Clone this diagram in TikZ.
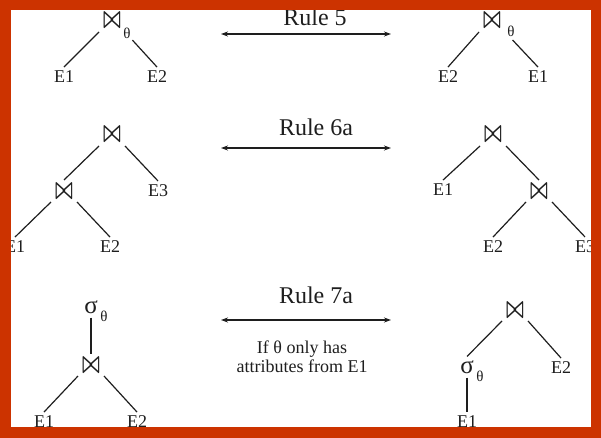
\documentclass[tikz,border=0pt]{standalone}
\usepackage{fontspec}
\setmainfont{Liberation Serif}
\usetikzlibrary{arrows.meta}
\definecolor{frame}{RGB}{204,51,0}
\definecolor{ink}{RGB}{30,30,30}
\newcommand{\joinsym}{\resizebox{18pt}{14pt}{\boldmath$\bowtie$}}
\tikzset{
  lab/.style={font=\fontsize{18}{18}\selectfont, text=ink, inner sep=0pt, outer sep=4pt},
  joinop/.style={text=ink, inner sep=0pt, outer sep=4pt},
  selop/.style={font=\fontsize{25}{25}\selectfont, text=ink, inner sep=0pt, outer sep=4pt},
  subtheta/.style={font=\fontsize{15}{15}\selectfont, text=ink, inner sep=0pt},
  rulename/.style={font=\fontsize{24}{24}\selectfont, text=ink, inner sep=1pt},
  note/.style={font=\fontsize{18}{19}\selectfont, text=ink, align=center, inner sep=0pt},
  branch/.style={line width=1.2pt, draw=ink},
  rulearrow/.style={line width=1.1pt, draw=ink, {Stealth[length=7pt,width=5pt]}-{Stealth[length=7pt,width=5pt]}},
}
\begin{document}
\begin{tikzpicture}[x=1pt,y=-1pt]
\useasboundingbox (0,0) rectangle (601,438);

% ---------- Rule 5: commutativity of theta-join ----------
\node[joinop] (a5) at (112,21) {\joinsym};
\node[subtheta] (a5t) at (127,33) {θ};
\node[lab] (a5l) at (64,77) {E1};
\node[lab] (a5r) at (157,77) {E2};
\draw[branch] (a5.south west) -- (a5l.north);
\draw[branch, shorten <=11pt] (a5.south east) -- (a5r.north);

\node[rulename] (r5) at (315,17) {Rule 5};
\coordinate (r5a) at (221,34);
\coordinate (r5b) at (391,34);
\draw[rulearrow] (r5a) -- (r5b);

\node[joinop] (b5) at (492,21) {\joinsym};
\node[subtheta] (b5t) at (511,31) {θ};
\node[lab] (b5l) at (448,77) {E2};
\node[lab] (b5r) at (538,77) {E1};
\draw[branch] (b5.south west) -- (b5l.north);
\draw[branch, shorten <=11pt] (b5.south east) -- (b5r.north);

% ---------- Rule 6a: associativity of natural join ----------
\node[joinop] (a6) at (112,135) {\joinsym};
\node[joinop] (a6j) at (64,191) {\joinsym};
\node[lab] (a6e3) at (158,191) {E3};
\node[lab] (a6e1) at (15,247) {E1};
\node[lab] (a6e2) at (110,247) {E2};
\draw[branch] (a6.south west) -- (a6j.north);
\draw[branch] (a6.south east) -- (a6e3.north);
\draw[branch] (a6j.south west) -- (a6e1.north);
\draw[branch] (a6j.south east) -- (a6e2.north);

\node[rulename] (r6) at (316,127) {Rule 6a};
\coordinate (r6a) at (221,148);
\coordinate (r6b) at (391,148);
\draw[rulearrow] (r6a) -- (r6b);

\node[joinop] (b6) at (493,135) {\joinsym};
\node[lab] (b6e1) at (443,190) {E1};
\node[joinop] (b6j) at (539,191) {\joinsym};
\node[lab] (b6e2) at (493,247) {E2};
\node[lab] (b6e3) at (585,247) {E3};
\draw[branch] (b6.south west) -- (b6e1.north);
\draw[branch] (b6.south east) -- (b6j.north);
\draw[branch] (b6j.south west) -- (b6e2.north);
\draw[branch] (b6j.south east) -- (b6e3.north);

% ---------- Rule 7a: pushing a selection into a join ----------
\node[selop] (a7s) at (91,307) {σ};
\node[subtheta] (a7t) at (104,316) {θ};
\node[joinop] (a7j) at (91,365) {\joinsym};
\node[lab] (a7e1) at (44,422) {E1};
\node[lab] (a7e2) at (137,422) {E2};
\draw[branch] (a7s.south) -- (a7j.north);
\draw[branch] (a7j.south west) -- (a7e1.north);
\draw[branch] (a7j.south east) -- (a7e2.north);

\node[rulename] (r7) at (316,295) {Rule 7a};
\coordinate (r7a) at (221,320);
\coordinate (r7b) at (391,320);
\draw[rulearrow] (r7a) -- (r7b);
\node[note] (cond) at (302,357) {If θ only has\\attributes from E1};

\node[joinop] (b7j) at (515,310) {\joinsym};
\node[selop] (b7s) at (467,367) {σ};
\node[subtheta] (b7t) at (480,376) {θ};
\node[lab] (b7e2) at (561,368) {E2};
\node[lab] (b7e1) at (467,422) {E1};
\draw[branch] (b7j.south west) -- (b7s.north);
\draw[branch] (b7j.south east) -- (b7e2.north);
\draw[branch] (b7s.south) -- (b7e1.north);

% ---------- frame ----------
\draw[frame, line width=10.5pt] (5.5,5.2) rectangle (596,432.5);
\end{tikzpicture}
\end{document}
